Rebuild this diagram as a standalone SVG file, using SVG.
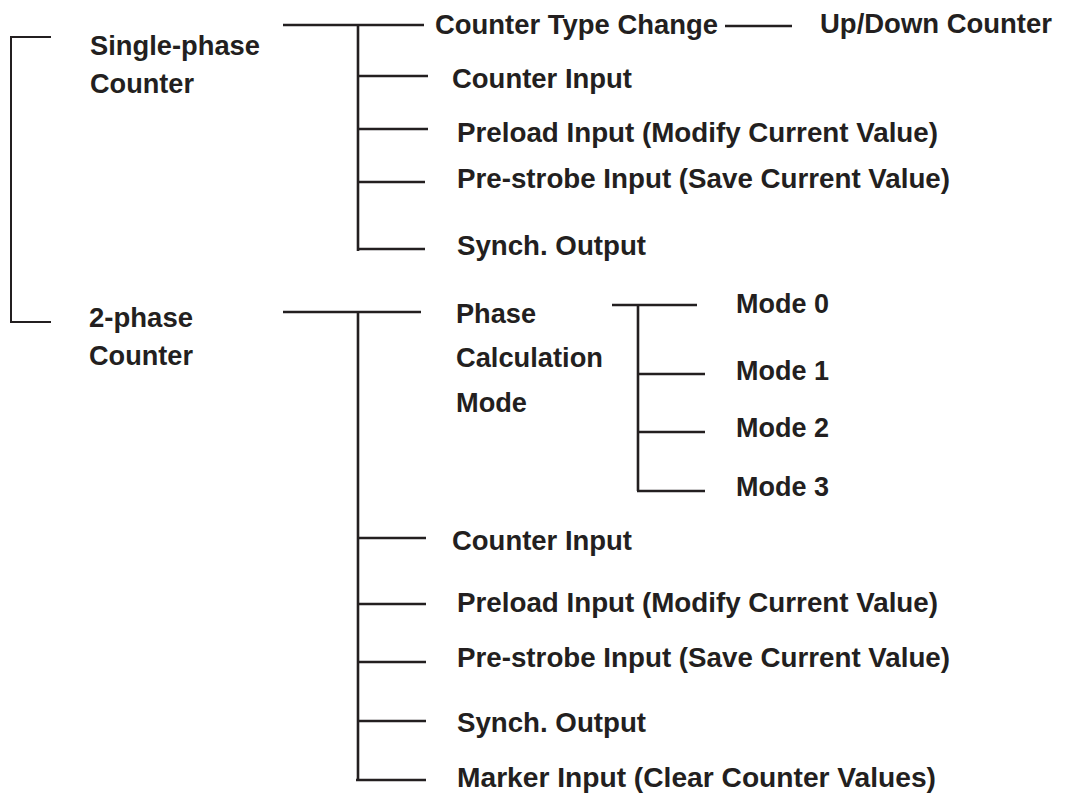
<svg xmlns="http://www.w3.org/2000/svg" width="1065" height="794" viewBox="0 0 1065 794">
<style>
.t{font-family:"Liberation Sans",Arial,sans-serif;font-weight:bold;font-size:28px;fill:#231f20}
.c{stroke:#231f20;stroke-width:2.6;fill:none;stroke-linecap:butt}
.b{stroke:#231f20;stroke-width:2;fill:none}
</style>
<rect width="1065" height="794" fill="#fff"/>
<g id="connectors">
<path class="b" d="M51,37 H11 V322 H51"/>
<path class="c" d="M283,25 H424 M358,25 V251 M358,76 H428 M358,129 H428 M358,182 H425 M358,249 H425"/>
<path class="c" d="M725,26 H792"/>
<path class="c" d="M283,312 H421 M358,312 V781 M358,538 H426 M358,604 H426 M358,662 H426 M358,721 H426 M356,780 H426"/>
<path class="c" d="M612,305 H697 M638,305 V491 M638,374 H705 M638,432 H705 M637,491 H705"/>
</g>
<g id="single-phase"><text class="t" x="90" y="55" textLength="170" lengthAdjust="spacingAndGlyphs">Single-phase</text><text class="t" x="90" y="93" textLength="104" lengthAdjust="spacingAndGlyphs">Counter</text></g>
<g id="two-phase"><text class="t" x="89" y="327" textLength="104" lengthAdjust="spacingAndGlyphs">2-phase</text><text class="t" x="89" y="365" textLength="104" lengthAdjust="spacingAndGlyphs">Counter</text></g>
<g id="counter-type-change"><text class="t" x="435" y="34" textLength="283" lengthAdjust="spacingAndGlyphs">Counter Type Change</text></g>
<g id="up-down-counter"><text class="t" x="820" y="33" textLength="232" lengthAdjust="spacingAndGlyphs">Up/Down Counter</text></g>
<g id="sp-counter-input"><text class="t" x="452" y="88" textLength="180" lengthAdjust="spacingAndGlyphs">Counter Input</text></g>
<g id="sp-preload"><text class="t" x="457" y="142" textLength="481" lengthAdjust="spacingAndGlyphs">Preload Input (Modify Current Value)</text></g>
<g id="sp-prestrobe"><text class="t" x="457" y="188" textLength="493" lengthAdjust="spacingAndGlyphs">Pre-strobe Input (Save Current Value)</text></g>
<g id="sp-synch"><text class="t" x="457" y="255" textLength="189" lengthAdjust="spacingAndGlyphs">Synch. Output</text></g>
<g id="phase-calc-mode"><text class="t" x="456" y="323" textLength="80" lengthAdjust="spacingAndGlyphs">Phase</text><text class="t" x="456" y="367" textLength="147" lengthAdjust="spacingAndGlyphs">Calculation</text><text class="t" x="456" y="412" textLength="71" lengthAdjust="spacingAndGlyphs">Mode</text></g>
<g id="mode0"><text class="t" x="736" y="313" textLength="93" lengthAdjust="spacingAndGlyphs">Mode 0</text></g>
<g id="mode1"><text class="t" x="736" y="380" textLength="93" lengthAdjust="spacingAndGlyphs">Mode 1</text></g>
<g id="mode2"><text class="t" x="736" y="437" textLength="93" lengthAdjust="spacingAndGlyphs">Mode 2</text></g>
<g id="mode3"><text class="t" x="736" y="496" textLength="93" lengthAdjust="spacingAndGlyphs">Mode 3</text></g>
<g id="tp-counter-input"><text class="t" x="452" y="550" textLength="180" lengthAdjust="spacingAndGlyphs">Counter Input</text></g>
<g id="tp-preload"><text class="t" x="457" y="612" textLength="481" lengthAdjust="spacingAndGlyphs">Preload Input (Modify Current Value)</text></g>
<g id="tp-prestrobe"><text class="t" x="457" y="667" textLength="493" lengthAdjust="spacingAndGlyphs">Pre-strobe Input (Save Current Value)</text></g>
<g id="tp-synch"><text class="t" x="457" y="732" textLength="189" lengthAdjust="spacingAndGlyphs">Synch. Output</text></g>
<g id="tp-marker"><text class="t" x="457" y="787" textLength="479" lengthAdjust="spacingAndGlyphs">Marker Input (Clear Counter Values)</text></g>
</svg>
